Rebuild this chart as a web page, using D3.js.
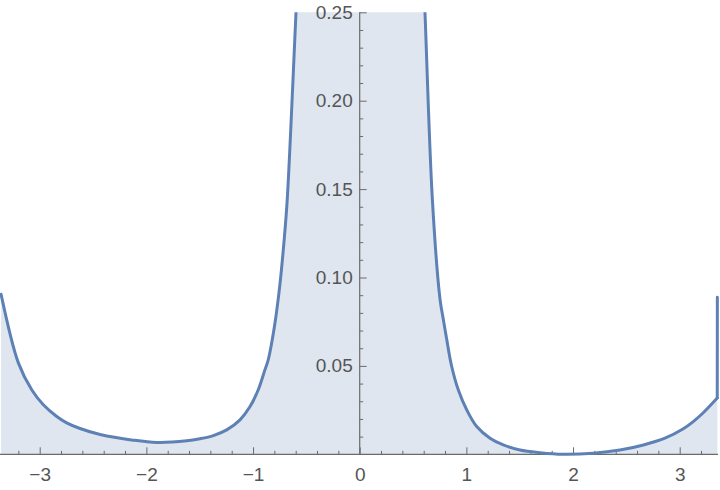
<!DOCTYPE html>
<html>
<head>
<meta charset="utf-8">
<script src="https://cdn.jsdelivr.net/npm/d3@7"></script>
<style>
  html, body { margin: 0; padding: 0; background: #fff; }
  svg { display: block; }
  text { font-family: "Liberation Sans", Arial, sans-serif; }
</style>
</head>
<body>
<svg id="chart" width="720" height="490"></svg>
<script>
// ---- data ----
const xValues = [
  -3.362, -3.200, -3.075, -2.966, -2.840, -2.747, -2.622, -2.434, -2.125, -1.903,
  -1.622, -1.497, -1.372, -1.247, -1.122, -1.028, -0.951, -0.888, -0.857, -0.800,
  -0.750, -0.710, -0.679, -0.597, -0.558,
   0.579,  0.612,  0.681,  0.753,  0.784,  0.816,  0.862,  0.924,  1.003,  1.097,
   1.222,  1.346,  1.503,  1.690,  1.909,  2.190,  2.440,  2.660,  2.862,  3.030,
   3.127,  3.221,  3.352,  3.353
];
const yValues = [
  0.0905, 0.0517, 0.0365, 0.0280, 0.0214, 0.0178, 0.0146, 0.0112, 0.0080, 0.0067,
  0.0076, 0.0088, 0.0106, 0.0138, 0.0195, 0.0270, 0.0365, 0.0479, 0.0536, 0.0720,
  0.0950, 0.1200, 0.1445, 0.2500, 0.3000,
  0.3000, 0.2500, 0.1445, 0.0877, 0.0763, 0.0649, 0.0498, 0.0365, 0.0252, 0.0157,
  0.0091, 0.0053, 0.0024, 0.0009, 0.0000, 0.0006, 0.0024, 0.0053, 0.0091, 0.0143,
  0.0185, 0.0235, 0.0318, 0.0888
];
const xMajorTicks = [-3, -2, -1, 0, 1, 2, 3];
const xMinorTicks = [-3.2, -2.8, -2.6, -2.4, -2.2, -1.8, -1.6, -1.4, -1.2, -0.8, -0.6, -0.4, -0.2,
                     0.2, 0.4, 0.6, 0.8, 1.2, 1.4, 1.6, 1.8, 2.2, 2.4, 2.6, 2.8, 3.2];
const yMajorTicks = [0.05, 0.10, 0.15, 0.20, 0.25];
const yMinorTicks = [0.01, 0.02, 0.03, 0.04, 0.06, 0.07, 0.08, 0.09, 0.11, 0.12, 0.13, 0.14,
                     0.16, 0.17, 0.18, 0.19, 0.21, 0.22, 0.23, 0.24];

const data = xValues.map((x, i) => ({ x, y: yValues[i] }));
const mainData = data.slice(0, -1);   // smooth part
const spikeData = data.slice(-2);     // final near-vertical rise at right edge

// ---- layout ----
const svg = d3.select("#chart");
const x = d3.scaleLinear().domain([-3, 3]).range([39.7, 679.7]);
const y = d3.scaleLinear().domain([0, 0.25]).range([454.3, 12.3]);
const plotLeft = 0, plotRight = 718, plotTop = y(0.25), plotBottom = y(0);

const lineColor = "#5E81B5";
const axisColor = "#6b6b6b";
const textColor = "#555555";
const smooth = d3.curveCatmullRom.alpha(0.5);

const defs = svg.append("defs");
defs.append("clipPath").attr("id", "clipFill")
  .append("rect")
  .attr("x", plotLeft).attr("y", plotTop)
  .attr("width", plotRight - plotLeft).attr("height", plotBottom - plotTop + 4);
defs.append("clipPath").attr("id", "clipLine")
  .append("rect")
  .attr("x", plotLeft).attr("y", plotTop)
  .attr("width", 720).attr("height", plotBottom - plotTop + 4);

const areaSmooth = d3.area().x(d => x(d.x)).y0(y(0)).y1(d => y(d.y)).curve(smooth);
const areaLinear = d3.area().x(d => x(d.x)).y0(y(0)).y1(d => y(d.y));
const lineSmooth = d3.line().x(d => x(d.x)).y(d => y(d.y)).curve(smooth);
const lineLinear = d3.line().x(d => x(d.x)).y(d => y(d.y));

const fillG = svg.append("g").attr("clip-path", "url(#clipFill)");
fillG.append("path").datum(mainData).attr("d", areaSmooth)
  .attr("fill", lineColor).attr("fill-opacity", 0.2);
fillG.append("path").datum(spikeData).attr("d", areaLinear)
  .attr("fill", lineColor).attr("fill-opacity", 0.2);

// ---- axes ----
const axesG = svg.append("g");
axesG.append("g").attr("transform", `translate(0,${y(0)})`)
  .call(d3.axisBottom(x).tickValues(xMajorTicks).tickSize(-7).tickPadding(13)
    .tickFormat(d3.format("d")));
axesG.append("g").attr("transform", `translate(0,${y(0)})`)
  .call(d3.axisBottom(x).tickValues(xMinorTicks).tickSize(-3.5).tickFormat(""));
axesG.append("g").attr("transform", `translate(${x(0)},0)`)
  .call(d3.axisLeft(y).tickValues(yMajorTicks).tickSize(-7).tickPadding(7)
    .tickFormat(d3.format(".2f")));
axesG.append("g").attr("transform", `translate(${x(0)},0)`)
  .call(d3.axisLeft(y).tickValues(yMinorTicks).tickSize(-3.5).tickFormat(""));

axesG.selectAll(".domain").remove();
axesG.selectAll(".tick line").attr("stroke", axisColor).attr("stroke-width", 1);
axesG.selectAll(".tick text").attr("fill", textColor).attr("font-size", 19)
  .attr("font-family", "'Liberation Sans', Arial, sans-serif");

axesG.append("line")
  .attr("x1", plotLeft).attr("x2", plotRight).attr("y1", y(0)).attr("y2", y(0))
  .attr("stroke", axisColor).attr("stroke-width", 1.2);
axesG.append("line")
  .attr("x1", x(0)).attr("x2", x(0)).attr("y1", plotTop).attr("y2", y(0))
  .attr("stroke", axisColor).attr("stroke-width", 1.2);

// ---- curve ----
const lineG = svg.append("g").attr("clip-path", "url(#clipLine)");
lineG.append("path").datum(mainData).attr("d", lineSmooth)
  .attr("fill", "none").attr("stroke", lineColor).attr("stroke-width", 3)
  .attr("stroke-linejoin", "round").attr("stroke-linecap", "round");
lineG.append("path").datum(spikeData).attr("d", lineLinear)
  .attr("fill", "none").attr("stroke", lineColor).attr("stroke-width", 3)
  .attr("stroke-linejoin", "round").attr("stroke-linecap", "round");
</script>
</body>
</html>
